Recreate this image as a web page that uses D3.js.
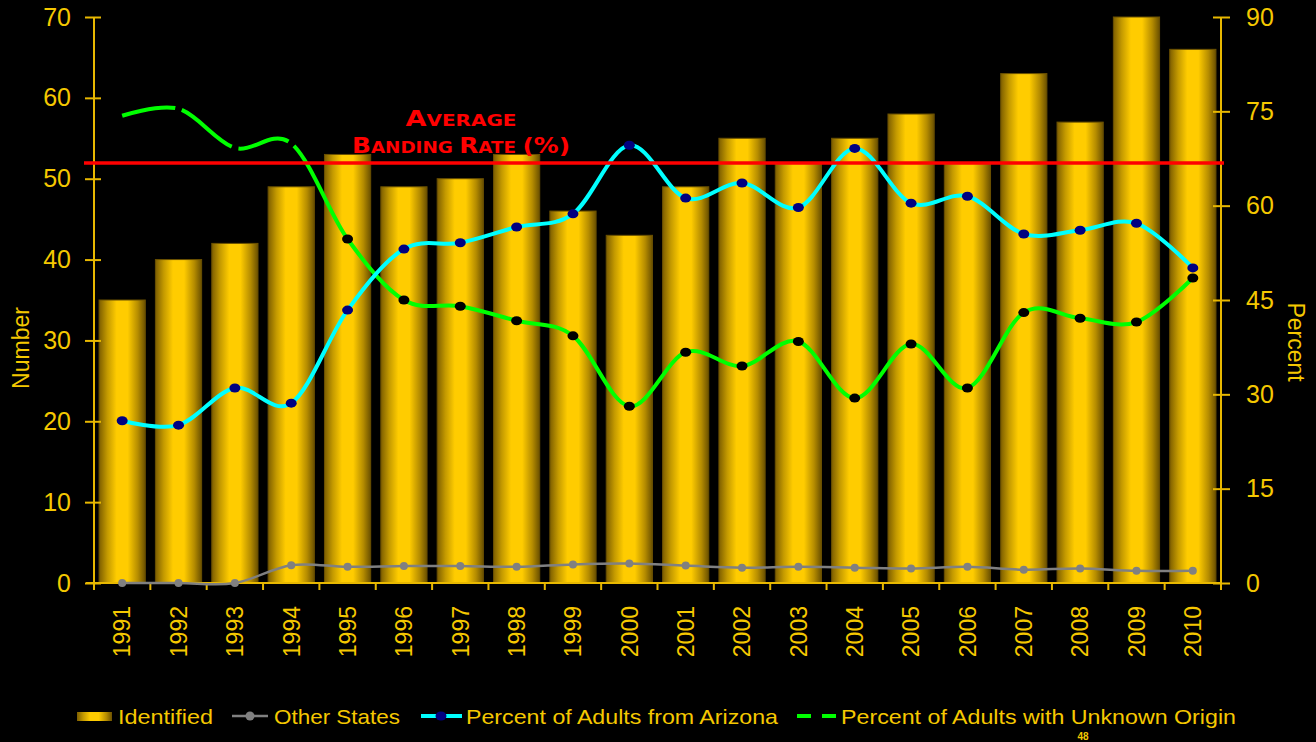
<!DOCTYPE html>
<html>
<head>
<meta charset="utf-8">
<script src="https://cdn.jsdelivr.net/npm/d3@7"></script>
<style>
  html, body { margin: 0; padding: 0; background: #000; }
  svg { display: block; }
</style>
</head>
<body>
<svg id="canvas"></svg>
<script>
// Chart data.
var years = ['1991','1992','1993','1994','1995','1996','1997','1998','1999','2000',
             '2001','2002','2003','2004','2005','2006','2007','2008','2009','2010'];
var identified = [35, 40, 42, 49, 53, 49, 50, 53, 46, 43, 49, 55, 52, 55, 58, 52, 63, 57, 70, 66];
var otherStates = [0, 0, 0, 2.2, 2.0, 2.1, 2.1, 2.0, 2.3, 2.4, 2.15, 1.9, 2.0, 1.9, 1.8, 2.0, 1.65, 1.8, 1.5, 1.5];
var pctArizona = [25.8, 25.1, 31.0, 28.6, 43.4, 53.1, 54.1, 56.6, 58.7, 69.6,
                  61.2, 63.6, 59.7, 69.1, 60.4, 61.5, 55.5, 56.1, 57.2, 50.1];
var pctUnknown = [74.3, 75.4, 69.2, 69.9, 54.7, 45.0, 44.0, 41.7, 39.3, 28.1,
                  36.7, 34.5, 38.4, 29.4, 38.0, 31.0, 43.0, 42.1, 41.5, 48.5];
var averageRate = 66.8;
var numberTicks = [0, 10, 20, 30, 40, 50, 60, 70];
var percentTicks = [0, 15, 30, 45, 60, 75, 90];
var legendLabels = ['Identified', 'Other States', 'Percent of Adults from Arizona', 'Percent of Adults with Unknown Origin'];

// Canvas settings.
var canvas = {
  w: 1316,
  h: 742,
  left: 94,
  right: 1221,
  top: 17,
  bottom: 583
};

var colours = {
  text: '#F5C800',
  axis: '#E8B800',
  cyan: '#00FFFF',
  navy: '#000080',
  green: '#00FF00',
  grey: '#808080',
  red: '#FF0000'
};

var svg = d3.select('#canvas')
            .attr('width', canvas.w)
            .attr('height', canvas.h);

// Bar gradient.
var defs = svg.append('defs');
var grad = defs.append('linearGradient')
               .attr('id', 'barGrad')
               .attr('x1', '0%').attr('x2', '100%')
               .attr('y1', '0%').attr('y2', '0%');
[['0%', '#7d5e00'], ['18%', '#c49a00'], ['38%', '#ffcc00'], ['62%', '#ffcc00'],
 ['84%', '#b58c00'], ['100%', '#6a5000']].forEach(function(s) {
  grad.append('stop').attr('offset', s[0]).attr('stop-color', s[1]);
});

// Scales.
var x = d3.scaleBand()
          .domain(years)
          .range([canvas.left, canvas.right])
          .paddingInner(0.18)
          .paddingOuter(0.09);

var yNum = d3.scaleLinear().domain([0, 70]).range([canvas.bottom, canvas.top]);
var yPct = d3.scaleLinear().domain([0, 90]).range([canvas.bottom, canvas.top]);

var cx = function(i) { return x(years[i]) + x.bandwidth() / 2; };

// Bars.
svg.append('g')
   .selectAll('rect')
   .data(identified)
   .enter()
   .append('rect')
   .attr('x', function(d, i) { return x(years[i]); })
   .attr('y', function(d) { return yNum(d); })
   .attr('width', x.bandwidth())
   .attr('height', function(d) { return yNum(0) - yNum(d); })
   .attr('fill', 'url(#barGrad)')
   .attr('stroke', '#6a5000')
   .attr('stroke-width', 1);

// Left axis.
var axisL = svg.append('g')
               .attr('transform', 'translate(' + canvas.left + ',0)')
               .call(d3.axisLeft(yNum).tickValues(numberTicks).tickSize(8).tickPadding(15));
axisL.select('.domain').attr('stroke', colours.axis).attr('stroke-width', 2)
     .attr('d', 'M0,' + canvas.top + 'V' + (canvas.bottom + 6));
axisL.selectAll('.tick line').attr('x1', 7).attr('x2', -9).attr('stroke', colours.axis).attr('stroke-width', 2);
axisL.selectAll('.tick text').attr('fill', colours.text)
     .style('font-family', 'Liberation Sans, Arial, sans-serif').style('font-size', '25px');

// Right axis.
var axisR = svg.append('g')
               .attr('transform', 'translate(' + canvas.right + ',0)')
               .call(d3.axisRight(yPct).tickValues(percentTicks).tickSize(9).tickPadding(16));
axisR.select('.domain').attr('stroke', colours.axis).attr('stroke-width', 2)
     .attr('d', 'M0,' + canvas.top + 'V' + (canvas.bottom + 6));
axisR.selectAll('.tick line').attr('x1', -8).attr('x2', 9).attr('stroke', colours.axis).attr('stroke-width', 2);
axisR.selectAll('.tick text').attr('fill', colours.text)
     .style('font-family', 'Liberation Sans, Arial, sans-serif').style('font-size', '25px');

// Bottom axis.
var axisB = svg.append('g')
               .attr('transform', 'translate(0,' + canvas.bottom + ')')
               .call(d3.axisBottom(x).tickSize(0).tickPadding(0));
axisB.select('.domain').attr('stroke', colours.axis).attr('stroke-width', 2)
     .attr('d', 'M' + (canvas.left - 8) + ',0H' + canvas.right);
axisB.selectAll('.tick text')
     .attr('fill', colours.text)
     .style('font-family', 'Liberation Sans, Arial, sans-serif')
     .style('font-size', '23px')
     .attr('text-anchor', 'end')
     .attr('transform', 'translate(0,23) rotate(-90)')
     .attr('x', 0).attr('y', 0).attr('dy', '0.36em');

// Ticks at category boundaries.
var gap = (x.step() - x.bandwidth()) / 2;
var bounds = years.map(function(d) { return x(d) - gap; }).concat([canvas.right]);
axisB.selectAll('line.bound')
     .data(bounds)
     .enter()
     .append('line')
     .attr('class', 'bound')
     .attr('x1', function(d) { return d; })
     .attr('x2', function(d) { return d; })
     .attr('y1', 0).attr('y2', 7)
     .attr('stroke', colours.axis).attr('stroke-width', 2);

// Axis titles.
svg.append('text')
   .attr('transform', 'translate(29,348) rotate(-90)')
   .attr('text-anchor', 'middle')
   .attr('fill', colours.text)
   .style('font-family', 'Liberation Sans, Arial, sans-serif')
   .style('font-size', '23px')
   .text('Number');

svg.append('text')
   .attr('transform', 'translate(1288,342) rotate(90)')
   .attr('text-anchor', 'middle')
   .attr('fill', colours.text)
   .style('font-family', 'Liberation Sans, Arial, sans-serif')
   .style('font-size', '23px')
   .text('Percent');

// Line generators.
var lineNum = d3.line()
                .x(function(d, i) { return cx(i); })
                .y(function(d) { return yNum(d); })
                .curve(d3.curveCardinal);
var linePct = d3.line()
                .x(function(d, i) { return cx(i); })
                .y(function(d) { return yPct(d); })
                .curve(d3.curveCardinal);

// Other states line.
svg.append('path')
   .attr('d', lineNum(otherStates))
   .attr('fill', 'none')
   .attr('stroke', colours.grey)
   .attr('stroke-width', 2.5);
svg.append('g').selectAll('circle')
   .data(otherStates)
   .enter()
   .append('circle')
   .attr('cx', function(d, i) { return cx(i); })
   .attr('cy', function(d) { return yNum(d); })
   .attr('r', 4)
   .attr('fill', colours.grey);

// Unknown origin line: dashed until 1994, solid afterwards.
var unknownPath = svg.append('path')
   .attr('d', linePct(pctUnknown))
   .attr('fill', 'none')
   .attr('stroke', colours.green)
   .attr('stroke-width', 4);

// Find the path length at a given x by bisection.
var lengthAtX = function(node, tx) {
  var lo = 0, hi = node.getTotalLength();
  for (var k = 0; k < 40; k++) {
    var mid = (lo + hi) / 2;
    if (node.getPointAtLength(mid).x < tx) { lo = mid; } else { hi = mid; }
  }
  return lo;
};
var node = unknownPath.node();
var total = node.getTotalLength();
var g = 7;
var L = [1, 2, 3].map(function(i) { return lengthAtX(node, cx(i)); });
var dash = [L[0] - g / 2, g, L[1] - L[0] - g, g, L[2] - L[1] - g, g, total];
unknownPath.attr('stroke-dasharray', dash.join(','));

svg.append('g').selectAll('ellipse')
   .data(pctUnknown.slice(4))
   .enter()
   .append('ellipse')
   .attr('cx', function(d, i) { return cx(i + 4); })
   .attr('cy', function(d) { return yPct(d); })
   .attr('rx', 5.5).attr('ry', 4.5)
   .attr('fill', '#000');

// Arizona line.
svg.append('path')
   .attr('d', linePct(pctArizona))
   .attr('fill', 'none')
   .attr('stroke', colours.cyan)
   .attr('stroke-width', 4);
svg.append('g').selectAll('ellipse')
   .data(pctArizona)
   .enter()
   .append('ellipse')
   .attr('cx', function(d, i) { return cx(i); })
   .attr('cy', function(d) { return yPct(d); })
   .attr('rx', 5.5).attr('ry', 4.5)
   .attr('fill', colours.navy);

// Average banding rate line.
svg.append('line')
   .attr('x1', canvas.left - 10).attr('x2', canvas.right + 3)
   .attr('y1', yPct(averageRate)).attr('y2', yPct(averageRate))
   .attr('stroke', colours.red)
   .attr('stroke-width', 3.5);

// Small caps label.
var smallCaps = function(parent, words, big, small) {
  words.forEach(function(w, j) {
    if (j > 0) { parent.append('tspan').style('font-size', small + 'px').text(' '); }
    var first = w.charAt(0);
    var rest = w.slice(1);
    if (/[a-z]/i.test(first)) {
      parent.append('tspan').style('font-size', big + 'px').text(first);
      parent.append('tspan').style('font-size', small + 'px').text(rest.toUpperCase());
    } else {
      parent.append('tspan').style('font-size', big + 'px').text(w);
    }
  });
};
var label1 = svg.append('text')
   .attr('x', 461).attr('y', 126)
   .attr('text-anchor', 'middle')
   .attr('fill', colours.red)
   .style('font-family', 'DejaVu Sans, sans-serif')
   .style('font-weight', 'bold')
   .attr('textLength', 111).attr('lengthAdjust', 'spacingAndGlyphs');
smallCaps(label1, ['Average'], 21, 15.5);
var label2 = svg.append('text')
   .attr('x', 461).attr('y', 153)
   .attr('text-anchor', 'middle')
   .attr('fill', colours.red)
   .style('font-family', 'DejaVu Sans, sans-serif')
   .style('font-weight', 'bold')
   .attr('textLength', 218).attr('lengthAdjust', 'spacingAndGlyphs');
smallCaps(label2, ['Banding', 'Rate', '(%)'], 21, 15.5);

// Legend.
var legend = svg.append('g');
var ly = 716;
var legendText = function(tx, str, len) {
  legend.append('text')
        .attr('x', tx).attr('y', ly + 7.5)
        .attr('fill', colours.text)
        .style('font-family', 'Liberation Sans, Arial, sans-serif')
        .style('font-size', '21px')
        .attr('textLength', len).attr('lengthAdjust', 'spacingAndGlyphs')
        .text(str);
};
legend.append('rect')
      .attr('x', 77).attr('y', ly - 4).attr('width', 35).attr('height', 9)
      .attr('fill', 'url(#barGrad)');
legendText(118, legendLabels[0], 95);

legend.append('line').attr('x1', 232).attr('x2', 268).attr('y1', ly).attr('y2', ly)
      .attr('stroke', colours.grey).attr('stroke-width', 2.5);
legend.append('circle').attr('cx', 250).attr('cy', ly).attr('r', 4.5).attr('fill', colours.grey);
legendText(274, legendLabels[1], 126);

legend.append('line').attr('x1', 421).attr('x2', 462).attr('y1', ly).attr('y2', ly)
      .attr('stroke', colours.cyan).attr('stroke-width', 4);
legend.append('ellipse').attr('cx', 441).attr('cy', ly).attr('rx', 5.5).attr('ry', 4.5).attr('fill', colours.navy);
legendText(466, legendLabels[2], 312);

legend.append('line').attr('x1', 797).attr('x2', 836).attr('y1', ly).attr('y2', ly)
      .attr('stroke', colours.green).attr('stroke-width', 4)
      .attr('stroke-dasharray', '14,11');
legendText(841, legendLabels[3], 395);

// Slide number.
svg.append('text')
   .attr('x', 1083).attr('y', 740)
   .attr('text-anchor', 'middle')
   .attr('fill', colours.text)
   .style('font-family', 'Liberation Sans, Arial, sans-serif')
   .style('font-weight', 'bold')
   .style('font-size', '10px')
   .text('48');
</script>
</body>
</html>
